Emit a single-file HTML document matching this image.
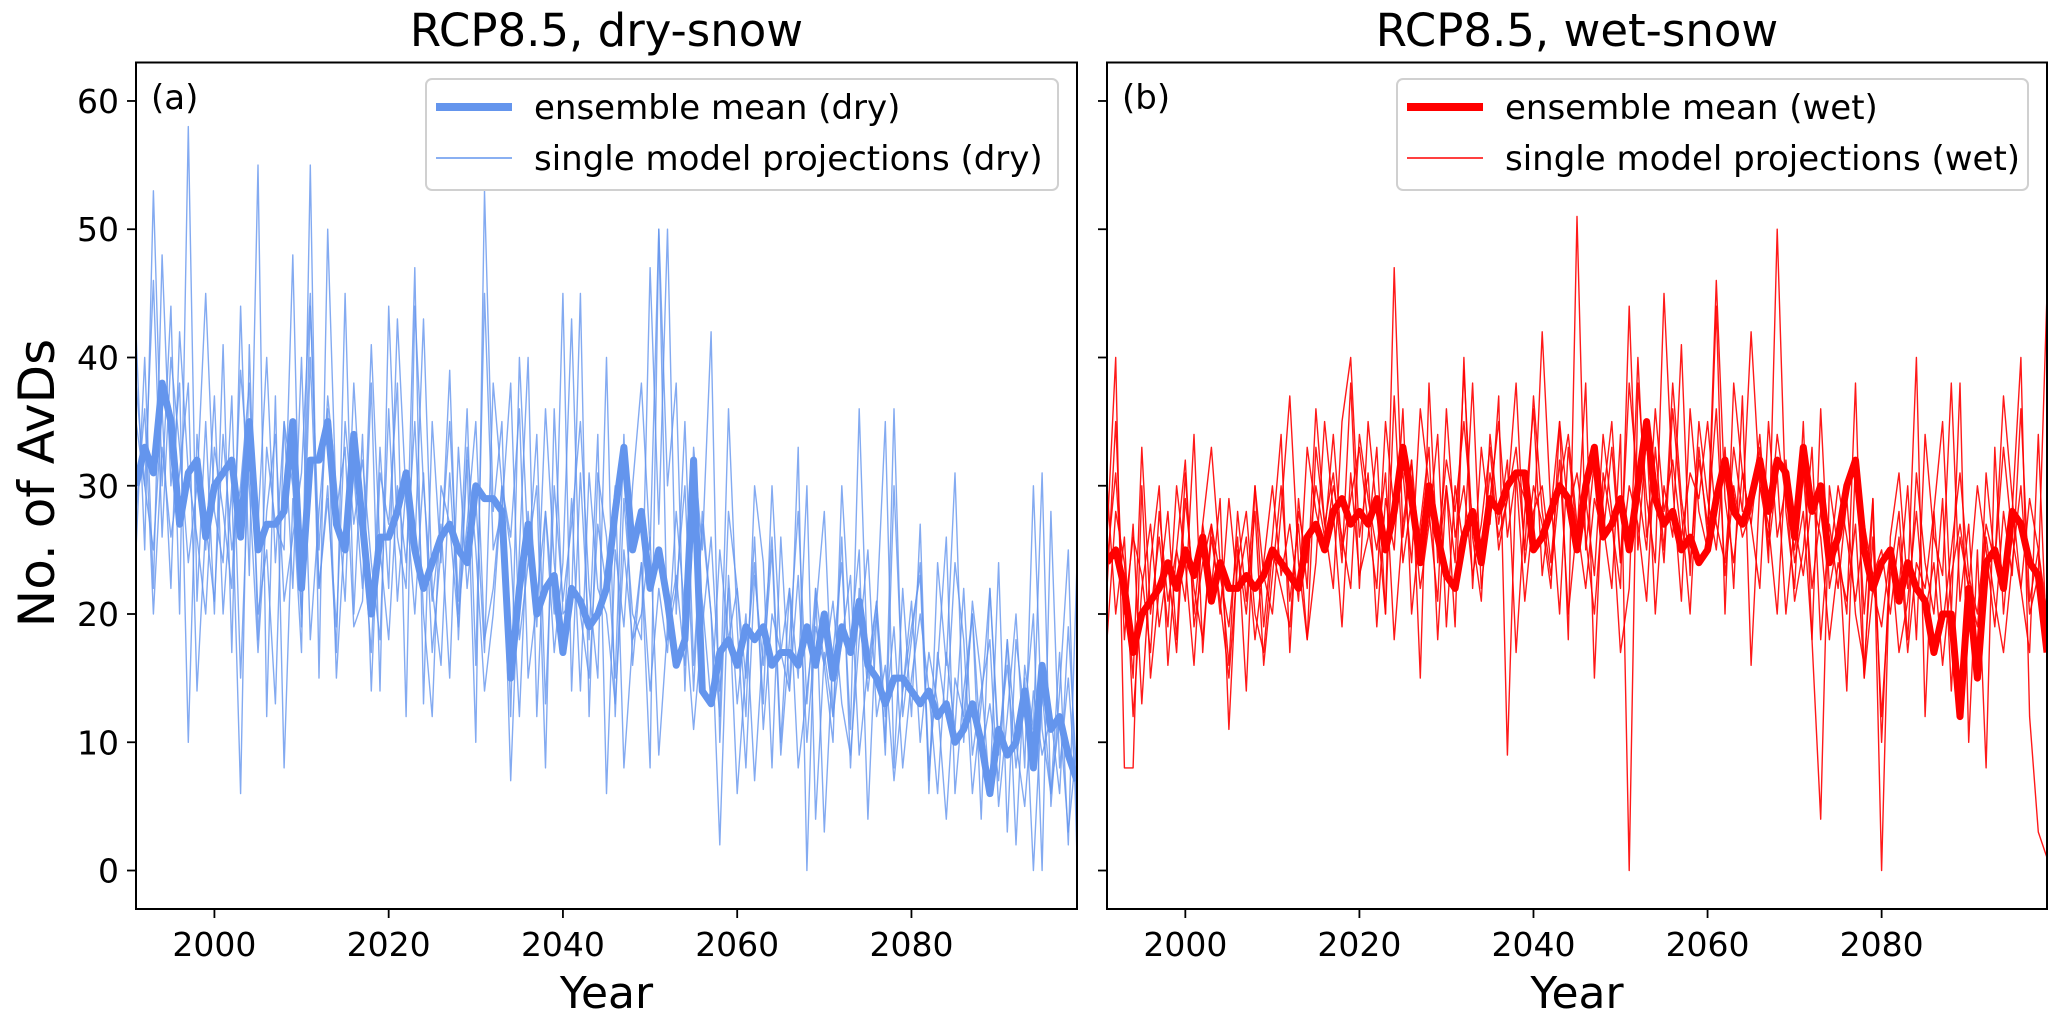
<!DOCTYPE html>
<html><head><meta charset="utf-8">
<style>
html,body{margin:0;padding:0;background:#fff;}
svg{display:block;font-family:"DejaVu Sans","Liberation Sans",sans-serif;}
</style></head>
<body>
<svg id="chart" width="2067" height="1021" viewBox="0 0 2067 1021" xmlns="http://www.w3.org/2000/svg">
<rect width="2067" height="1021" fill="#fff"/>
<g id="panelA"></g>
<g id="panelB"></g>
<text x="0" y="0" transform="translate(54,483) rotate(-90)" text-anchor="middle" font-size="50">No. of AvDs</text>
</svg>
<script>
const startYear = 1991;
const xTicks = [2000, 2020, 2040, 2060, 2080];
const yTicks = [0, 10, 20, 30, 40, 50, 60];
const dryMean = [30,33,31,38,35,27,31,32,26,30,31,32,26,35,25,27,27,28,35,22,32,32,35,27,25,34,27,20,26,26,28,31,25,22,24,26,27,25,24,30,29,29,28,15,22,27,20,22,23,17,22,21,19,20,22,28,33,25,28,22,25,21,16,18,32,14,13,17,18,16,19,18,19,16,17,17,16,19,16,20,15,19,17,21,16,15,13,15,15,14,13,14,12,13,10,11,13,10,6,11,9,10,14,8,16,11,12,9,7];
const wetMean = [24,25,22,17,20,21,22,24,22,25,23,26,21,24,22,22,23,22,23,25,24,23,22,26,27,25,28,29,27,28,27,29,25,28,33,29,24,30,26,23,22,26,28,24,29,28,30,31,31,25,26,28,30,29,25,30,33,26,27,29,25,30,35,29,27,28,25,26,24,25,29,32,28,27,29,32,28,32,31,26,33,28,30,24,26,30,32,25,22,24,25,21,24,22,21,17,20,20,12,22,15,24,25,22,28,27,24,23,17];
const dry1 = [42,25,53,30,44,20,58,21,35,20,41,17,44,23,55,12,37,8,29,17,55,15,50,28,33,19,21,38,14,44,26,22,47,13,35,24,39,18,32,10,53,28,35,12,40,25,30,8,36,20,21,45,12,31,26,15,34,16,24,8,50,30,38,14,33,25,42,10,28,22,12,30,24,8,26,14,33,0,22,16,10,30,18,25,4,20,35,8,22,12,27,6,24,16,31,10,21,15,6,24,3,18,12,20,0,28,8,15,5];
const dry2 = [25,40,22,48,30,38,10,34,25,37,20,30,6,41,18,33,27,25,48,19,40,22,30,17,45,20,34,14,31,27,38,12,44,30,21,27,15,33,22,29,17,38,30,7,25,40,12,28,20,45,14,31,18,34,6,25,19,30,38,25,50,18,22,30,14,28,20,2,23,13,20,7,18,26,10,22,15,30,4,17,12,26,8,22,14,20,10,36,12,18,24,8,16,26,6,14,20,4,22,10,16,8,15,0,14,6,12,3,10];
const dry3 = [35,30,46,26,40,33,24,30,45,28,24,37,15,33,27,40,24,35,30,20,44,25,37,30,21,38,26,17,33,22,43,29,20,31,17,25,35,21,36,16,45,25,28,38,18,24,34,13,30,21,27,35,22,15,40,12,29,20,18,47,27,50,20,35,16,27,20,12,36,19,8,23,16,25,9,18,28,13,22,3,17,24,11,36,15,21,9,30,14,19,23,7,17,12,24,18,6,13,22,9,18,2,16,11,31,5,14,25,1];
const dry4 = [28,36,20,33,26,31,38,14,27,21,34,25,30,38,20,25,13,35,22,40,18,28,36,15,27,31,22,41,25,18,30,24,35,20,12,30,27,19,33,25,14,20,30,26,36,15,21,28,17,24,43,20,15,27,22,30,8,18,24,14,22,17,28,20,11,19,26,14,22,6,16,24,13,30,17,22,8,14,20,28,12,18,23,9,16,21,12,19,8,15,20,14,6,17,11,22,9,14,18,5,12,20,8,30,11,6,17,2,24];
const dry5 = [38,30,25,36,22,42,31,26,20,33,28,22,39,30,17,28,34,21,26,31,45,22,29,19,35,27,32,24,18,36,21,30,25,43,22,16,31,20,27,35,18,22,30,25,12,28,19,36,24,17,29,14,31,22,20,13,25,18,20,26,9,19,23,16,27,21,13,25,18,22,15,26,11,20,17,14,23,10,19,16,21,13,9,18,25,12,16,7,14,21,10,17,13,4,15,12,20,9,13,7,18,10,5,14,9,12,6,19,7];
const wet1 = [26,40,8,8,30,15,22,28,18,31,20,27,33,24,16,28,21,30,19,26,34,17,29,22,36,27,31,24,38,22,35,28,20,47,26,32,15,38,24,30,19,40,22,33,27,37,9,31,29,26,42,28,35,18,51,25,32,27,22,34,0,38,29,24,45,30,21,36,28,25,44,20,38,31,27,33,24,50,28,22,35,18,4,30,25,20,38,15,29,0,26,31,22,40,12,28,35,20,38,10,25,8,33,20,28,40,12,3,1];
const wet2 = [22,35,18,27,13,24,30,16,25,21,34,17,27,23,19,26,14,30,23,20,28,37,24,18,33,27,22,35,40,26,31,19,29,25,36,20,27,33,18,30,24,39,26,21,34,27,32,17,28,36,23,29,20,33,26,38,15,31,27,22,44,25,34,20,30,26,41,23,35,29,25,33,22,37,16,30,27,20,32,24,28,18,36,22,26,14,32,20,29,10,25,22,30,18,34,26,23,38,21,27,16,31,24,37,29,22,17,34,17];
const wet3 = [18,28,24,15,33,20,26,19,30,24,16,27,22,29,11,25,20,28,16,23,30,21,27,18,24,35,28,19,31,23,26,33,20,37,24,29,22,27,34,19,30,25,38,22,29,35,26,31,21,28,30,24,32,20,27,29,23,34,28,17,22,40,26,31,24,36,28,20,33,26,46,29,24,31,27,22,35,26,30,21,25,33,18,27,22,29,20,16,26,12,23,28,18,31,24,20,29,14,26,22,30,25,19,28,23,36,21,25,18];
const wet4 = [24,31,20,26,23,17,28,21,25,32,19,24,27,20,29,22,26,18,24,30,23,27,21,33,28,25,30,26,22,34,29,25,31,18,27,32,24,28,21,36,26,30,23,27,33,25,29,38,24,30,27,22,35,28,31,26,20,29,35,24,30,27,21,33,25,38,29,24,32,27,36,23,30,26,28,34,25,31,20,27,23,29,26,18,24,21,27,15,22,19,25,17,21,28,20,24,16,23,27,22,19,26,21,17,24,30,20,23,45];
const wet5 = [30,20,26,12,22,27,19,24,17,29,22,18,26,21,15,24,28,20,17,25,22,19,28,24,30,26,34,25,29,33,27,22,35,28,31,24,36,30,25,32,28,35,27,24,31,26,29,33,25,37,28,23,30,34,27,22,29,26,33,24,38,30,25,36,28,32,26,31,29,35,27,24,33,28,42,30,26,34,29,25,31,22,28,24,30,26,21,27,23,25,20,26,17,24,22,28,19,25,31,23,20,27,24,33,26,22,29,25,20];

const NS = "http://www.w3.org/2000/svg";
const X0 = 1991, X1 = 2099, Y0 = -3, Y1 = 63;
const TOP = 62.5, BOT = 909;
function yScale(v){ return BOT - (v - Y0) / (Y1 - Y0) * (BOT - TOP); }
function mk(tag, attrs, parent){
  const e = document.createElementNS(NS, tag);
  for (const k in attrs) e.setAttribute(k, attrs[k]);
  parent.appendChild(e);
  return e;
}
function drawPanel(g, left, right, color, singles, mean, title, letter, kind, showYLabels){
  const xScale = v => left + (v - X0) / (X1 - X0) * (right - left);
  const cx = (left + right) / 2;
  const t = mk('text', {x: cx, y: 46, 'text-anchor': 'middle', 'font-size': 45}, g);
  
  
  t.textContent = title;
  const clipId = 'clip' + kind;
  const cp = mk('clipPath', {id: clipId}, g);
  mk('rect', {x: left, y: TOP, width: right - left, height: BOT - TOP}, cp);
  const lines = mk('g', {'clip-path': 'url(#' + clipId + ')'}, g);
  singles.forEach(s => {
    const pts = s.map((v, i) => xScale(startYear + i).toFixed(1) + ',' + yScale(v).toFixed(1)).join(' ');
    const p = mk('polyline', {points: pts, fill: 'none', stroke: color, 'stroke-width': 1.4, 'stroke-opacity': kind === 'dry' ? 0.8 : 0.9, 'stroke-linejoin': 'round'}, lines);
    
    
  });
  const mpts = mean.map((v, i) => xScale(startYear + i).toFixed(1) + ',' + yScale(v).toFixed(1)).join(' ');
  const mp = mk('polyline', {points: mpts, fill: 'none', stroke: color, 'stroke-width': 7, 'stroke-linejoin': 'round'}, lines);
  
  
  const frame = mk('rect', {x: left, y: TOP, width: right - left, height: BOT - TOP, fill: 'none', stroke: '#000', 'stroke-width': 2}, g);
  
  
  xTicks.forEach(v => {
    const x = xScale(v);
    mk('line', {x1: x, x2: x, y1: BOT, y2: BOT + 9, stroke: '#000', 'stroke-width': 1.8}, g);
    const tl = mk('text', {x: x, y: BOT + 47, 'text-anchor': 'middle', 'font-size': 33}, g);
    
    
    tl.textContent = v;
  });
  yTicks.forEach(v => {
    const y = yScale(v);
    mk('line', {x1: left - 9, x2: left, y1: y, y2: y, stroke: '#000', 'stroke-width': 1.8}, g);
    if (showYLabels){
      const tl = mk('text', {x: left - 17, y: y + 12, 'text-anchor': 'end', 'font-size': 33}, g);
      
      
      tl.textContent = v;
    }
  });
  const xt = mk('text', {x: cx, y: 1008, 'text-anchor': 'middle', 'font-size': 44}, g);
  
  
  xt.textContent = 'Year';
  const lt = mk('text', {x: left + 15, y: 109, 'font-size': 34}, g);
  
  
  lt.textContent = letter;
  const lx = left + 290, lw = right - 19 - lx;
  const lg = mk('g', {}, g);
  
  
  mk('rect', {x: lx, y: 79, width: lw, height: 111, rx: 6, fill: '#fff', 'fill-opacity': 0.85, stroke: '#d0d0d0', 'stroke-width': 2}, lg);
  mk('line', {x1: lx + 10, x2: lx + 86, y1: 107, y2: 107, stroke: color, 'stroke-width': 8}, lg);
  const t1 = mk('text', {x: lx + 108, y: 119, 'font-size': 34}, lg);
  
  
  t1.textContent = 'ensemble mean (' + kind + ')';
  mk('line', {x1: lx + 10, x2: lx + 86, y1: 158, y2: 158, stroke: color, 'stroke-width': 1.6}, lg);
  const t2 = mk('text', {x: lx + 108, y: 170, 'font-size': 34}, lg);
  
  
  t2.textContent = 'single model projections (' + kind + ')';
}
drawPanel(document.getElementById('panelA'), 136, 1077, '#6495ED', [dry1, dry2, dry3, dry4, dry5], dryMean, 'RCP8.5, dry-snow', '(a)', 'dry', true);
drawPanel(document.getElementById('panelB'), 1107, 2047, '#FF0000', [wet1, wet2, wet3, wet4, wet5], wetMean, 'RCP8.5, wet-snow', '(b)', 'wet', false);
</script>
</body></html>
